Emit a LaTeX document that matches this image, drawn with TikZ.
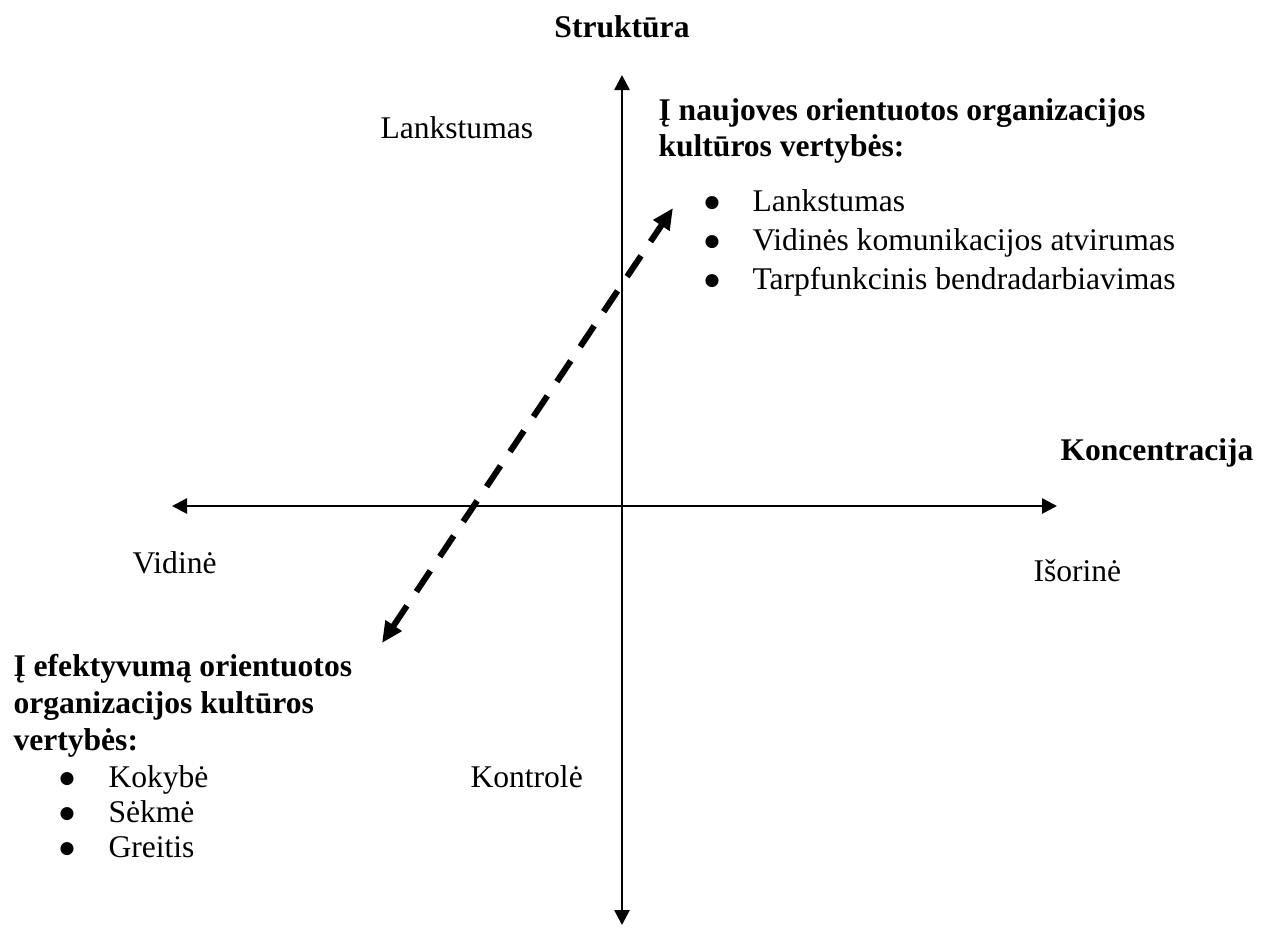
\documentclass[tikz,border=0pt]{standalone}
\usepackage{fontspec}
\setmainfont{Liberation Serif}
\newfontfamily\symfont{DejaVu Sans}
\usetikzlibrary{arrows.meta}
\begin{document}
\begin{tikzpicture}[x=0.38pt,y=-0.38pt,
  txt/.style={inner sep=0pt,anchor=base west,font=\fontsize{12}{14.6}\selectfont},
  head/.style={txt,font=\fontsize{12}{14.6}\selectfont\bfseries},
  dot/.style={inner sep=0pt,anchor=center,font=\symfont\fontsize{6.5}{7}\selectfont},
  axis/.style={line width=1pt,
    {Triangle[length=5.7pt,width=5.7pt]}-{Triangle[length=5.7pt,width=5.7pt]}},
  link/.style={line width=2.3pt,dash pattern=on 9.5pt off 6.5pt,
    {Triangle[length=8pt,width=7pt]}-{Triangle[length=8pt,width=7pt]}}]
  \useasboundingbox (0,0) rectangle (1271,927);

  % axes
  \coordinate (top) at (622,75);
  \coordinate (bottom) at (622,925);
  \coordinate (left) at (172,506);
  \coordinate (right) at (1057,506);
  \draw[axis] (bottom) -- (top);
  \draw[axis] (left) -- (right);

  % axis labels
  \node[head,anchor=base] (struk) at (622,37) {Struktūra};
  \node[head] (konc) at (1060,460) {Koncentracija};
  \node[txt] (lanks) at (380,138) {Lankstumas};
  \node[txt] (vid) at (132,573) {Vidinė};
  \node[txt] (isor) at (1033,581) {Išorinė};
  \node[txt] (kontr) at (470,787) {Kontrolė};

  % innovation-oriented values
  \node[head] (inno1) at (658,120) {Į naujoves orientuotos organizacijos};
  \node[head] (inno2) at (658,156) {kultūros vertybės:};
  \node[dot] (ib1) at (712,203) {●};
  \node[txt] (it1) at (752,211) {Lankstumas};
  \node[dot] (ib2) at (712,242) {●};
  \node[txt] (it2) at (752,250) {Vidinės komunikacijos atvirumas};
  \node[dot] (ib3) at (712,281) {●};
  \node[txt] (it3) at (752,289) {Tarpfunkcinis bendradarbiavimas};

  % efficiency-oriented values
  \node[head] (eff1) at (13,676) {Į efektyvumą orientuotos};
  \node[head] (eff2) at (13,713) {organizacijos kultūros};
  \node[head] (eff3) at (13,750) {vertybės:};
  \node[dot] (eb1) at (67,779) {●};
  \node[txt] (et1) at (108,787) {Kokybė};
  \node[dot] (eb2) at (67,814) {●};
  \node[txt] (et2) at (108,822) {Sėkmė};
  \node[dot] (eb3) at (67,849) {●};
  \node[txt] (et3) at (108,857) {Greitis};

  % dashed double arrow between the two value sets
  \coordinate (effend) at (382,643);
  \coordinate (innoend) at (673,208);
  \draw[link] (effend) -- (innoend);
\end{tikzpicture}
\end{document}
